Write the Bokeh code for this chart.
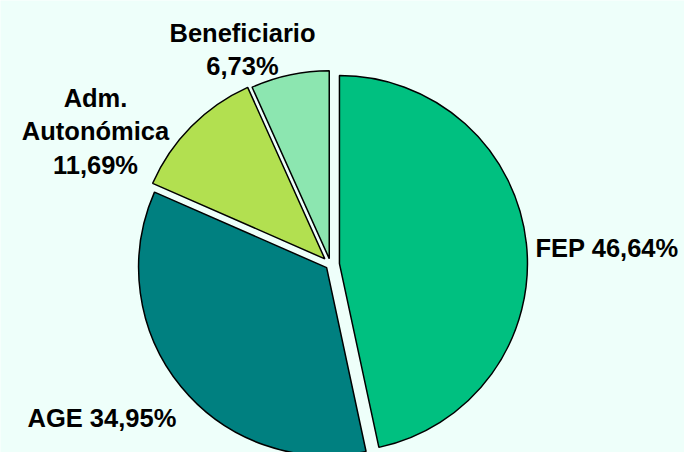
import math
from bokeh.plotting import figure
from bokeh.models import Range1d, ColumnDataSource
from bokeh.core.properties import value
from bokeh.embed import file_html
from bokeh.resources import INLINE

# ---- data ----
categories = ["FEP", "AGE", "Adm.\nAutonómica", "Beneficiario"]
shares = [46.64, 34.95, 11.69, 6.73]
colors = ["#00C080", "#008080", "#B2E050", "#8CE6B0"]

# ---- layout (reference pixel space, y down) ----
W, H = 684, 452
BG = "#EEFFFA"
center = (330, 264)
radius = 188
explode = [9, 5, 8, 6]
label_inline = [True, True, False, False]
label_anchor = [(535, 247, "left"), (27, 417, "left"), (95, 97, "center"), (242, 32, "center")]
line_step = 33.5


def fy(y_ref):
    return H - y_ref


p = figure(width=W, height=H, output_backend="svg", toolbar_location=None,
           x_range=Range1d(0, W), y_range=Range1d(0, H), min_border=0)
p.axis.visible = False
p.grid.visible = False
p.outline_line_color = None
p.background_fill_color = BG
p.border_fill_color = BG

total = sum(shares)
xs, ys, sa, ea = [], [], [], []
cum = 0.0
for v, e in zip(shares, explode):
    a0 = cum / total * 360.0
    cum += v
    a1 = cum / total * 360.0
    m = math.radians((a0 + a1) / 2)
    xs.append(center[0] + e * math.sin(m))
    ys.append(fy(center[1]) + e * math.cos(m))
    sa.append(math.radians(90 - a1))
    ea.append(math.radians(90 - a0))

src = ColumnDataSource(dict(x=xs, y=ys, sa=sa, ea=ea, color=colors))
p.wedge(x="x", y="y", radius=radius, start_angle="sa", end_angle="ea", direction="anticlock",
        fill_color="color", line_color="black", line_width=1.5, source=src)

# labels
for name, v, inline, (lx, ly, align) in zip(categories, shares, label_inline, label_anchor):
    pct = ("%.2f" % v).replace(".", ",") + "%"
    if inline:
        lines = [name.replace("\n", " ") + " " + pct]
    else:
        lines = name.split("\n") + [pct]
    for i, t in enumerate(lines):
        p.text(x=[lx], y=[fy(ly + i * line_step)], text=[t], text_align=align,
               text_baseline="alphabetic", text_font=value("Liberation Sans"),
               text_font_style="bold", text_font_size="25.5px", text_color="black")

open("out.html", "w").write(file_html(p, INLINE))
